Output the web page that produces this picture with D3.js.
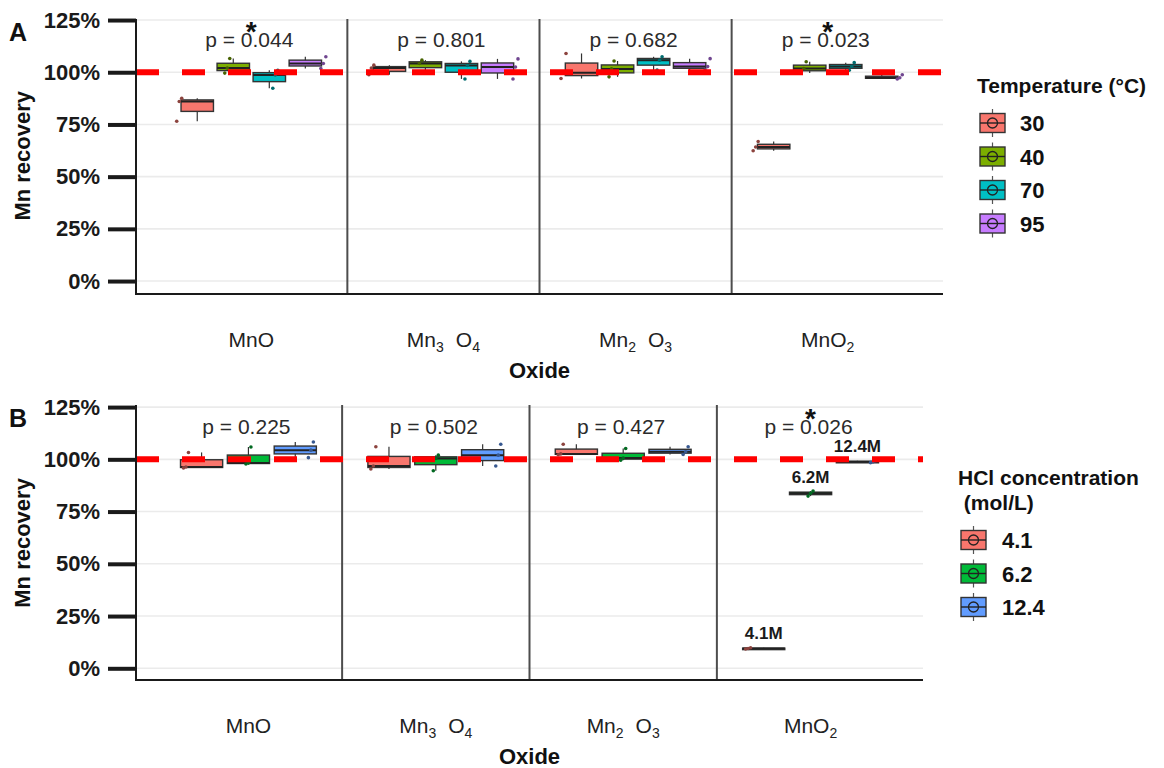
<!DOCTYPE html>
<html>
<head>
<meta charset="utf-8">
<script src="https://cdn.jsdelivr.net/npm/d3@7"></script>
<style>
	body { margin: 0; background: #fff; }
	svg { font-family: 'Liberation Sans', Arial, sans-serif; }
</style>
</head>
<body>
<div id="graphic"></div>
<script>
// categories
var oxides = ['MnO', 'Mn3O4', 'Mn2O3', 'MnO2'];
// tick label pieces: [text, isSubscript]
var oxideParts = [
	[['MnO', 0]],
	[['Mn', 0], ['3', 1], ['O', 0], ['4', 1]],
	[['Mn', 0], ['2', 1], ['O', 0], ['3', 1]],
	[['MnO', 0], ['2', 1]]
];
var yTicks = [0, 25, 50, 75, 100, 125];

// panel A : temperature
var temps = ['30', '40', '70', '95'];
var tempColours = ['#F8766D', '#7CAE00', '#00BFC4', '#C77CFF'];
// Mn recovery (%), three replicates, [oxide][temperature]
var tempRecovery = [
	[[76.5, 86.0, 87.5], [99.6, 102.0, 106.6], [92.3, 98.7, 100.9], [101.8, 104.2, 107.4]],
	[[98.8, 102.0, 103.4], [100.2, 104.2, 105.8], [96.8, 103.2, 105.2], [96.8, 102.5, 106.4]],
	[[97.0, 99.8, 109.0], [97.8, 101.6, 105.4], [101.0, 105.8, 107.4], [101.1, 102.7, 106.5]],
	[[62.4, 64.2, 66.8], [99.6, 101.8, 105.0], [101.0, 102.8, 104.6], [96.8, 97.4, 98.8]]
];
var tempP = ['p = 0.044', 'p = 0.801', 'p = 0.682', 'p = 0.023'];
var tempSig = ['*', '', '', '*'];

// panel B : HCl concentration
var hcl = ['4.1', '6.2', '12.4'];
var hclColours = ['#F8766D', '#00BA38', '#619CFF'];
var hclRecovery = [
	[[95.9, 96.3, 103.3], [97.8, 98.2, 105.9], [100.8, 104.4, 108.3]],
	[[95.4, 96.8, 106.0], [94.5, 100.4, 102.0], [96.8, 102.0, 107.2]],
	[[102.2, 102.6, 107.2], [99.6, 100.6, 105.2], [102.3, 103.6, 106.0]],
	[[9.2, 9.5, 9.8], [82.4, 83.8, 84.8], [98.4, 98.8, 99.3]]
];
var hclP = ['p = 0.225', 'p = 0.502', 'p = 0.427', 'p = 0.026'];
var hclSig = ['', '', '', '*'];
var hclTags = ['4.1M', '6.2M', '12.4M']; // only written on MnO2

var svg = d3.select('#graphic').append('svg')
	.attr('width', 1164)
	.attr('height', 768);

function drawPanel(opt) {
	var g = svg.append('g');
	var x = d3.scaleBand().domain(oxides).range([opt.left, opt.right])
		.paddingInner(0).paddingOuter(0.1);
	var y = d3.scaleLinear().domain(opt.yDomain).range([opt.bottom, opt.top]);
	var step = x.bandwidth();
	var xBox = d3.scaleBand().domain(opt.levels).range([-0.375 * step, 0.375 * step]);
	var xPt = d3.scaleBand().domain(opt.levels).range([-0.5 * step, 0.5 * step]);
	var boxW = xBox.bandwidth() * 0.9;

	// gridlines
	g.selectAll('.grid').data(yTicks).join('line')
		.attr('x1', opt.left).attr('x2', opt.right)
		.attr('y1', d => y(d)).attr('y2', d => y(d))
		.attr('stroke', '#ebebeb').attr('stroke-width', 1.6);

	// dividers between oxides
	g.selectAll('.divider').data(oxides.slice(1)).join('line')
		.attr('x1', d => x(d)).attr('x2', d => x(d))
		.attr('y1', opt.top).attr('y2', opt.bottom)
		.attr('stroke', '#4d4d4d').attr('stroke-width', 2);

	// boxes
	oxides.forEach(function (ox, i) {
		var cx = x(ox) + step / 2;
		opt.levels.forEach(function (lev, j) {
			var vals = opt.data[i][j].slice().sort(d3.ascending);
			var q1 = d3.quantile(vals, 0.25), med = d3.quantile(vals, 0.5), q3 = d3.quantile(vals, 0.75);
			var bx = cx + xBox(lev) + xBox.bandwidth() / 2;
			var col = opt.colours[j];
			var bg = g.append('g');
			bg.append('line')
				.attr('x1', bx).attr('x2', bx)
				.attr('y1', y(d3.min(vals))).attr('y2', y(d3.max(vals)))
				.attr('stroke', '#333').attr('stroke-width', 1.2);
			bg.append('rect')
				.attr('x', bx - boxW / 2).attr('width', boxW)
				.attr('y', y(q3)).attr('height', Math.max(y(q1) - y(q3), 1.5))
				.attr('fill', col).attr('stroke', '#333').attr('stroke-width', 1.4);
			bg.append('line')
				.attr('x1', bx - boxW / 2).attr('x2', bx + boxW / 2)
				.attr('y1', y(med)).attr('y2', y(med))
				.attr('stroke', '#222').attr('stroke-width', 2);
			// replicate points
			var px = cx + xPt(lev) + xPt.bandwidth() / 2;
			bg.selectAll('circle').data(vals).join('circle')
				.attr('cx', (d, k) => px + (k - 1) * 2.5)
				.attr('cy', d => y(d))
				.attr('r', 1.8)
				.attr('fill', d3.color(col).darker(1.6));
			if (opt.tags && i === 3) {
				bg.append('text')
					.attr('x', bx).attr('y', y(q3) - 9)
					.attr('text-anchor', 'middle')
					.attr('font-size', 17).attr('font-weight', 'bold')
					.attr('fill', '#1a1a1a')
					.text(opt.tags[j]);
			}
		});
		// p value and significance star
		var pBase = y(112);
		g.append('text')
			.attr('x', cx - 2).attr('y', pBase)
			.attr('text-anchor', 'middle')
			.attr('font-size', 21).attr('fill', '#2b2b2b')
			.text(opt.p[i]);
		if (opt.sig[i]) {
			g.append('text')
				.attr('x', cx).attr('y', pBase - 6)
				.attr('text-anchor', 'middle')
				.attr('font-size', 28).attr('font-weight', 'bold')
				.attr('fill', '#111')
				.text(opt.sig[i]);
		}
	});

	// reference line at 100%
	g.append('line')
		.attr('x1', opt.left).attr('x2', opt.right)
		.attr('y1', y(100)).attr('y2', y(100))
		.attr('stroke', '#ff0000').attr('stroke-width', 6)
		.attr('stroke-dasharray', '23,23');

	// axes lines
	g.append('line')
		.attr('x1', opt.left).attr('x2', opt.left)
		.attr('y1', opt.top).attr('y2', opt.bottom)
		.attr('stroke', '#1a1a1a').attr('stroke-width', 2);
	g.append('line')
		.attr('x1', opt.left - 1).attr('x2', opt.right)
		.attr('y1', opt.bottom).attr('y2', opt.bottom)
		.attr('stroke', '#1a1a1a').attr('stroke-width', 2);

	// y axis ticks
	var yAxis = d3.axisLeft(y).tickValues(yTicks).tickSize(28).tickPadding(8)
		.tickFormat(d => d + '%');
	var ya = g.append('g')
		.attr('transform', 'translate(' + opt.left + ',0)')
		.call(yAxis);
	ya.select('.domain').remove();
	ya.selectAll('line').attr('stroke', '#1a1a1a').attr('stroke-width', 4);
	ya.selectAll('text')
		.attr('font-size', 22).attr('font-weight', 'bold')
		.attr('fill', '#1a1a1a')
		.attr('font-family', "'Liberation Sans', Arial, sans-serif");

	// x tick labels with subscripts
	oxides.forEach(function (ox, i) {
		var t = g.append('text')
			.attr('x', x(ox) + step / 2).attr('y', opt.bottom + 53)
			.attr('text-anchor', 'middle')
			.attr('font-size', 21).attr('fill', '#222');
		oxideParts[i].forEach(function (p, k) {
			var ts = t.append('tspan').text(p[0]);
			if (p[1]) {
				ts.attr('font-size', 14).attr('dy', 5);
			} else if (k > 0) {
				ts.attr('dy', -5).attr('dx', 12);
			}
		});
	});

	// axis titles
	g.append('text')
		.attr('x', (opt.left + opt.right) / 2).attr('y', opt.bottom + 84)
		.attr('text-anchor', 'middle')
		.attr('font-size', 22).attr('font-weight', 'bold').attr('fill', '#111')
		.text('Oxide');
	g.append('text')
		.attr('transform', 'translate(30,' + y(60) + ') rotate(-90)')
		.attr('text-anchor', 'middle')
		.attr('font-size', 22).attr('font-weight', 'bold').attr('fill', '#111')
		.text('Mn recovery');
	g.append('text')
		.attr('x', 9).attr('y', opt.top + 22)
		.attr('font-size', 25).attr('font-weight', 'bold').attr('fill', '#111')
		.text(opt.label);

	// legend
	var lg = g.append('g');
	opt.legendTitle.forEach(function (line, k) {
		lg.append('text')
			.attr('x', opt.legendX - 3).attr('y', opt.legendTitleY + k * 25)
			.attr('font-size', 21).attr('font-weight', 'bold').attr('fill', '#111')
			.attr('xml:space', 'preserve')
			.text(line);
	});
	opt.levels.forEach(function (lev, j) {
		var cy = opt.legendY + j * 33.5;
		var kx = opt.legendX;
		var key = lg.append('g');
		key.append('line')
			.attr('x1', kx + 12.5).attr('x2', kx + 12.5)
			.attr('y1', cy - 14).attr('y2', cy + 14)
			.attr('stroke', '#555').attr('stroke-width', 1.2);
		key.append('rect')
			.attr('x', kx).attr('y', cy - 9.5).attr('width', 25).attr('height', 19)
			.attr('fill', opt.colours[j]).attr('stroke', '#333').attr('stroke-width', 1.4);
		key.append('line')
			.attr('x1', kx).attr('x2', kx + 25)
			.attr('y1', cy).attr('y2', cy)
			.attr('stroke', '#222').attr('stroke-width', 1.4);
		key.append('circle')
			.attr('cx', kx + 12.5).attr('cy', cy).attr('r', 5)
			.attr('fill', 'none').attr('stroke', '#222').attr('stroke-width', 1.3);
		lg.append('text')
			.attr('x', kx + opt.legendLabelDx).attr('y', cy + 8)
			.attr('font-size', 22).attr('font-weight', 'bold').attr('fill', '#111')
			.text(lev);
	});
}

drawPanel({
	label: 'A', top: 19, bottom: 294, left: 136, right: 943,
	yDomain: [-6.2, 125.5],
	levels: temps, colours: tempColours, data: tempRecovery,
	p: tempP, sig: tempSig,
	legendTitle: ['Temperature (°C)'], legendX: 980, legendTitleY: 93,
	legendY: 123, legendLabelDx: 40
});

drawPanel({
	label: 'B', top: 405, bottom: 680, left: 136, right: 923,
	yDomain: [-5.6, 126],
	levels: hcl, colours: hclColours, data: hclRecovery,
	p: hclP, sig: hclSig, tags: hclTags,
	legendTitle: ['HCl concentration', ' (mol/L)'], legendX: 961, legendTitleY: 485,
	legendY: 540, legendLabelDx: 41
});
</script>
</body>
</html>
